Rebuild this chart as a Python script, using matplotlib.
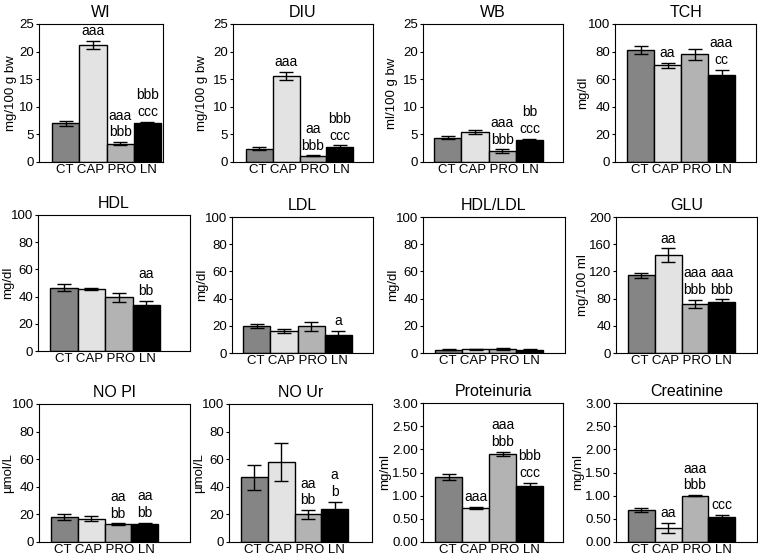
import numpy as np
import matplotlib.pyplot as plt

plt.rcParams['font.family'] = ['Liberation Sans', 'DejaVu Sans']

groups = ['CT', 'CAP', 'PRO', 'LN']
colors = ['#858585', '#e3e3e3', '#b3b3b3', '#000000']

titles = ['WI', 'DIU', 'WB', 'TCH',
          'HDL', 'LDL', 'HDL/LDL', 'GLU',
          'NO Pl', 'NO Ur', 'Proteinuria', 'Creatinine']
ylabels = ['mg/100 g bw', 'mg/100 g bw', 'ml/100 g bw', 'mg/dl',
           'mg/dl', 'mg/dl', 'mg/dl', 'mg/100 ml',
           'µmol/L', 'µmol/L', 'mg/ml', 'mg/ml']

wi = [7.0, 21.2, 3.3, 7.0]
wi_err = [0.5, 0.7, 0.3, 0.3]
diu = [2.4, 15.6, 1.1, 2.8]
diu_err = [0.3, 0.7, 0.1, 0.2]
wb = [4.4, 5.4, 2.0, 3.9]
wb_err = [0.3, 0.4, 0.3, 0.3]
tch = [81, 70, 78, 63]
tch_err = [3, 2, 4, 4]
hdl = [46.5, 45.5, 39.5, 33.5]
hdl_err = [2.5, 1.0, 3.5, 3.5]
ldl = [20, 16.5, 19.5, 13.5]
ldl_err = [1.5, 1.5, 3.5, 3.0]
hdl_ldl = [2.3, 2.8, 3.0, 2.3]
hdl_ldl_err = [0.3, 0.3, 1.0, 0.8]
glu = [114, 144, 72, 75]
glu_err = [4, 10, 6, 4]
no_pl = [18, 17, 13, 13]
no_pl_err = [2, 1.5, 0.5, 1]
no_ur = [47, 58, 20, 24]
no_ur_err = [9, 13.5, 3, 5]
prot = [1.40, 0.73, 1.90, 1.20]
prot_err = [0.06, 0.02, 0.05, 0.08]
creat = [0.69, 0.31, 1.00, 0.54]
creat_err = [0.05, 0.11, 0.01, 0.05]

values = [wi, diu, wb, tch, hdl, ldl, hdl_ldl, glu, no_pl, no_ur, prot, creat]
errors = [wi_err, diu_err, wb_err, tch_err, hdl_err, ldl_err, hdl_ldl_err,
          glu_err, no_pl_err, no_ur_err, prot_err, creat_err]

# significance letters per bar
letters = [
    ['', 'aaa', 'aaa\nbbb', 'bbb\nccc'],
    ['', 'aaa', 'aa\nbbb', 'bbb\nccc'],
    ['', '', 'aaa\nbbb', 'bb\nccc'],
    ['', 'aa', '', 'aaa\ncc'],
    ['', '', '', 'aa\nbb'],
    ['', '', '', 'a'],
    ['', '', '', ''],
    ['', 'aa', 'aaa\nbbb', 'aaa\nbbb'],
    ['', '', 'aa\nbb', 'aa\nbb'],
    ['', '', 'aa\nbb', 'a\nb'],
    ['', 'aaa', 'aaa\nbbb', 'bbb\nccc'],
    ['', 'aa', 'aaa\nbbb', 'ccc'],
]

yticks = [np.arange(0, 26, 5)] * 3 + [np.arange(0, 101, 20)] * 4 + \
         [np.arange(0, 201, 40)] + [np.arange(0, 101, 20)] * 2 + \
         [np.arange(0, 3.01, 0.5)] * 2

# axes boxes (left, top, right, bottom), bar span and y-label centre, in pixels
boxes = [(39, 24, 163, 162), (233, 24, 373, 162), (423, 24, 563, 162), (615, 24, 756, 162),
         (38, 215, 190, 351), (232, 217, 373, 353), (423, 217, 565, 353), (616, 217, 757, 353),
         (39, 404, 190, 542), (229, 404, 372, 542), (423, 403, 563, 542), (616, 403, 757, 542)]
spans = [(52, 161), (246, 353), (434, 543), (627, 735),
         (50, 160), (243, 352), (435, 543), (628, 735),
         (51, 158), (241, 348), (435, 543), (628, 735)]
label_x = [11, 202, 392, 583,
           8, 202, 393, 583,
           8, 199, 385, 578]

W, H = 758, 556
fig = plt.figure(figsize=(W / 100, H / 100), dpi=100)

x = np.arange(4)
for i in range(12):
    l, t, r, b = boxes[i]
    x0, x1 = spans[i]
    ax = fig.add_axes([l / W, 1 - b / H, (r - l) / W, (b - t) / H])
    bw = (x1 - x0) / 4
    ax.bar(x, values[i], width=1.0, color=colors, edgecolor='black', linewidth=1.0)
    ax.errorbar(x, values[i], yerr=errors[i], fmt='none', ecolor='black',
                elinewidth=1.0, capsize=5, capthick=1.0)
    ax.set_xlim(-0.5 - (x0 - l) / bw, 3.5 + (r - x1) / bw)
    ticks = yticks[i]
    ax.set_ylim(0, ticks[-1])
    ax.set_yticks(ticks)
    if ticks[-1] == 3.0:
        ax.set_yticklabels([f'{v:.2f}' for v in ticks])
    ax.set_xticks([])
    ax.tick_params(axis='y', length=2.5, pad=1, labelsize=9.5)
    ax.set_ylabel(ylabels[i], fontsize=9.5, va='center')
    ax.yaxis.set_label_coords((label_x[i] - l) / (r - l), 0.5)
    ax.set_title(titles[i], fontsize=11.5, pad=5)
    # group names written as one line under the bars
    ax.text(1.5, -0.015, ' '.join(groups), transform=ax.get_xaxis_transform(),
            ha='center', va='top', fontsize=9.5)
    for j in range(4):
        if letters[i][j]:
            ax.annotate(letters[i][j], (x[j], values[i][j] + errors[i][j]),
                        xytext=(0, 2), textcoords='offset points',
                        ha='center', va='bottom', fontsize=10, linespacing=1.25)

fig.savefig('out.png', dpi=100)
